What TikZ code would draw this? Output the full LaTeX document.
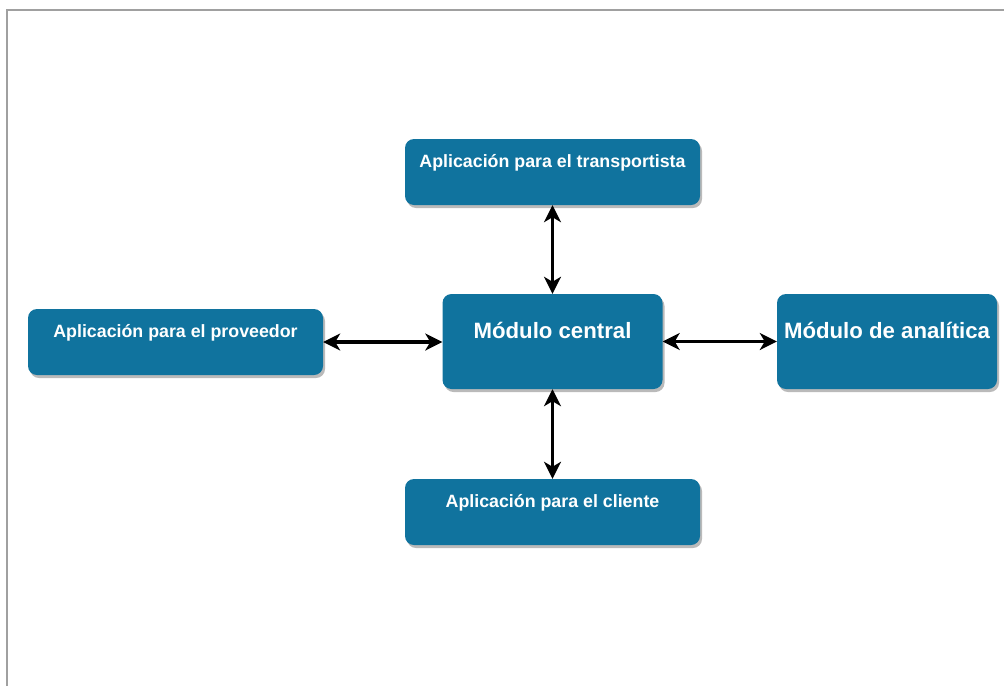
\documentclass[tikz,border=0pt]{standalone}
\usepackage{fontspec}
\setmainfont{Liberation Sans}
\usetikzlibrary{arrows.meta,shadows}
\definecolor{boxblue}{HTML}{10739E}
\definecolor{framegray}{HTML}{A0A0A0}
\begin{document}
\begin{tikzpicture}[x=1pt,y=-1pt,
  box/.style={draw=none, fill=boxblue, rounded corners=9pt, inner xsep=0pt, inner ysep=0pt,
    text=white, font=\bfseries, align=center,
    drop shadow={shadow xshift=2pt, shadow yshift=-3pt, fill=black!45, opacity=0.6}},
  small/.style={box, minimum width=295pt, minimum height=66pt,
    font=\bfseries\fontsize{17.8}{20}\selectfont, text height=28pt, text depth=38pt},
  big/.style={box, minimum width=220pt, minimum height=95pt,
    font=\bfseries\fontsize{22.2}{26}\selectfont, text height=44pt, text depth=51pt},
  tip/.style={Stealth[length=17pt,width=17pt,inset=5pt]},
  link/.style={line width=3.4pt, {Stealth[length=17pt,width=17pt,inset=5pt]}-{Stealth[length=17pt,width=17pt,inset=5pt]}}]
\useasboundingbox (0,0) rectangle (1004,686);
% frame, open at right and bottom
\draw[framegray, line width=1.2pt] (7,686) -- (7,10) -- (1004,10);
% boxes
\node[small] (trans) at (552.5,172) {Aplicación para el transportista};
\node[small] (prov) at (175.5,342) {Aplicación para el proveedor};
\node[big] (central) at (552.5,341.5) {Módulo central};
\node[big] (anal) at (887,341.5) {Módulo de analítica};
\node[small] (cli) at (552.5,512) {Aplicación para el cliente};
% connectors
\draw[link] (trans.south) -- (central.north);
\draw[link] (central.south) -- (cli.north);
\draw[link] (prov.east) -- (prov.east -| central.west);
\draw[link] (central.east) -- (central.east -| anal.west);
\end{tikzpicture}
\end{document}
